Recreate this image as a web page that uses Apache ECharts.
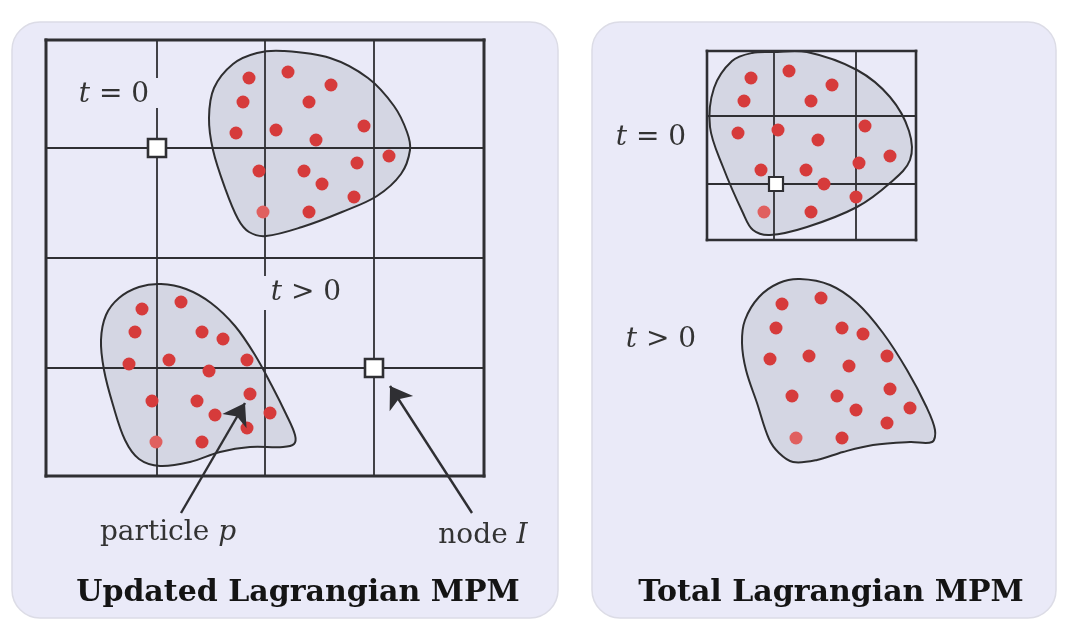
<!DOCTYPE html>
<html><head><meta charset="utf-8">
<script src="https://cdn.jsdelivr.net/npm/echarts@6/dist/echarts.min.js"></script>
<style>html,body{margin:0;padding:0;background:#fff}#c{width:1080px;height:636px}</style>
</head><body><div id="c"></div>
<script>
// Panels [x0,y0,x1,y1]
const panels = [[12,22,558,618],[592,22,1056,618]];
// Background grids
const gridLx = [46,157,265,374,484];
const gridLy = [40,148,258,368,476];
const gridRx = [707,774,856,916];
const gridRy = [51,116,184,240];
// Body outlines
const blobUL0 = [[283,51],[330,58],[368,78],[394,106],[407,132],[410,150],[401,174],[377,196],[342,212],[302,227],[266,236],[249,232],[238,219],[225,188],[213,150],[209,118],[214,88],[233,64],[257,53]];
const blobUL1 = [[161,284],[186,289],[211,303],[235,326],[255,355],[272,386],[286,414],[295,435],[294,444],[283,447],[250,447],[220,452],[190,462],[160,466],[139,459],[125,440],[113,405],[104,370],[101,340],[106,315],[119,298],[139,287]];
const blobTL0 = [[773,52],[807,52],[857,70],[890,97],[909,131],[910,160],[890,183],[857,207],[807,227],[770,235],[753,230],[743,213],[723,167],[710,127],[714,88],[732,61],[752,53]];
const blobTL1 = [[800,279],[830,285],[857,303],[883,333],[907,370],[926,406],[935,430],[932,442],[910,442],[873,445],[843,452],[817,460],[793,462],[779,453],[769,439],[757,403],[746,370],[742,343],[745,320],[759,297],[779,283]];
// Particles
const partUL0 = [[249,78],[288,72],[331,85],[243,102],[309,102],[236,133],[276,130],[316,140],[364,126],[389,156],[259,171],[304,171],[357,163],[322,184],[354,197],[309,212]];
const hiUL0 = [[263,212]];
const partUL1 = [[142,309],[181,302],[135,332],[202,332],[223,339],[129,364],[169,360],[209,371],[247,360],[152,401],[197,401],[250,394],[215,415],[270,413],[247,428],[202,442]];
const hiUL1 = [[156,442]];
const partTL0 = [[751,78],[789,71],[832,85],[744,101],[811,101],[738,133],[778,130],[818,140],[865,126],[890,156],[761,170],[806,170],[859,163],[824,184],[856,197],[811,212]];
const hiTL0 = [[764,212]];
const partTL1 = [[782,304],[821,298],[776,328],[842,328],[863,334],[770,359],[809,356],[849,366],[887,356],[792,396],[837,396],[890,389],[856,410],[910,408],[887,423],[842,438]];
const hiTL1 = [[796,438]];
// Nodes
const nodesL = [[157,148],[374,368]];
const nodesR = [[776,184]];
// Arrows
const arrows = [[[181,513],[245,403]],[[472,513],[390,386]]];
// Label masks (cover grid lines behind labels)
const masks = [[66,78,197,108],[229,276,361,310]];
// Labels [x,y,text,kind]
const labels = [
  [114,95,'{i|t} = 0','m'],
  [306,293,'{i|t} > 0','m'],
  [651,138,'{i|t} = 0','m'],
  [661,340,'{i|t} > 0','m'],
  [168,533,'particle {i|p}','m'],
  [483,536,'node {i|I}','m'],
  [298,593,'Updated Lagrangian MPM','t'],
  [831,593,'Total Lagrangian MPM','t']
];

function segs(xs, ys){
  const out=[];
  xs.forEach(x=>out.push([x,ys[0],x,ys[ys.length-1]]));
  ys.forEach(y=>out.push([xs[0],y,xs[xs.length-1],y]));
  return out;
}
function lineSeries(data, inner, outer, z){
  return {type:'custom',coordinateSystem:'cartesian2d',silent:true,clip:false,z:z,
    data:segs(data.xs,data.ys),encode:{x:[0,2],y:[1,3]},
    renderItem:(p,api)=>{
      const a=api.coord([api.value(0),api.value(1)]), b=api.coord([api.value(2),api.value(3)]);
      const isEdge = (api.value(0)===api.value(2) && (api.value(0)===data.xs[0]||api.value(0)===data.xs[data.xs.length-1])) ||
                     (api.value(1)===api.value(3) && (api.value(1)===data.ys[0]||api.value(1)===data.ys[data.ys.length-1]));
      return {type:'line',shape:{x1:a[0],y1:a[1],x2:b[0],y2:b[1]},style:{stroke:'#2f2f33',lineWidth:isEdge?outer:inner,lineCap:'square'}};
    }};
}
function blob(pts){
  return {type:'custom',coordinateSystem:'cartesian2d',silent:true,clip:false,z:2,data:[[pts[0][0],pts[0][1]]],
    renderItem:(p,api)=>({type:'polygon',shape:{points:pts.map(q=>api.coord(q)),smooth:0.35},
      style:{fill:'#d4d6e3',stroke:'#2e2e30',lineWidth:2}})};
}
function dots(d,color){
  return {type:'scatter',data:d,symbolSize:13,silent:true,z:5,itemStyle:{color:color,opacity:1}};
}
const option = {
  animation:false,
  grid:{left:0,right:0,top:0,bottom:0},
  xAxis:{type:'value',min:0,max:1080,show:false},
  yAxis:{type:'value',min:0,max:636,inverse:true,show:false},
  series:[
    {type:'custom',coordinateSystem:'cartesian2d',silent:true,clip:false,z:0,data:panels,encode:{x:[0,2],y:[1,3]},
      renderItem:(p,api)=>{const a=api.coord([api.value(0),api.value(1)]),b=api.coord([api.value(2),api.value(3)]);
        return {type:'rect',shape:{x:a[0],y:a[1],width:b[0]-a[0],height:b[1]-a[1],r:28},style:{fill:'#eaeaf8',stroke:'#dcdce6',lineWidth:1.5}};}},
    blob(blobUL0),blob(blobUL1),blob(blobTL0),blob(blobTL1),
    lineSeries({xs:gridLx,ys:gridLy},1.8,3,3),
    lineSeries({xs:gridRx,ys:gridRy},1.8,2.6,3),
    {type:'custom',coordinateSystem:'cartesian2d',silent:true,clip:false,z:4,data:masks,encode:{x:[0,2],y:[1,3]},
      renderItem:(p,api)=>{const a=api.coord([api.value(0),api.value(1)]),b=api.coord([api.value(2),api.value(3)]);
        return {type:'rect',shape:{x:a[0],y:a[1],width:b[0]-a[0],height:b[1]-a[1]},style:{fill:'#eaeaf8'}};}},
    dots(partUL0,'#d63b3b'),dots(partUL1,'#d63b3b'),dots(partTL0,'#d63b3b'),dots(partTL1,'#d63b3b'),
    dots(hiUL0,'#e0605f'),dots(hiUL1,'#e0605f'),dots(hiTL0,'#e0605f'),dots(hiTL1,'#e0605f'),
    {type:'scatter',data:nodesL,symbol:'rect',symbolSize:18,silent:true,z:6,itemStyle:{color:'#ffffff',opacity:1,borderColor:'#2f2f33',borderWidth:2.6}},
    {type:'scatter',data:nodesR,symbol:'rect',symbolSize:14,silent:true,z:6,itemStyle:{color:'#ffffff',opacity:1,borderColor:'#2f2f33',borderWidth:2.2}},
    {type:'lines',coordinateSystem:'cartesian2d',silent:true,z:7,symbol:['none','arrow'],symbolSize:[0,21],
      lineStyle:{color:'#2f2f33',width:2.4,opacity:1},data:arrows.map(c=>({coords:c}))},
    {type:'custom',coordinateSystem:'cartesian2d',silent:true,clip:false,z:8,
      data:labels.map(l=>[l[0],l[1]]),
      renderItem:(p,api)=>{const l=labels[p.dataIndex];const c=api.coord([api.value(0),api.value(1)]);
        const title=l[3]==='t';
        return {type:'text',x:c[0],y:c[1],style:{text:l[2],fill:title?'#141414':'#333333',
          fontFamily:'DejaVu Serif',fontSize:title?30:28,fontWeight:title?'bold':'normal',
          align:'center',verticalAlign:'middle',
          rich:{i:{fontStyle:'italic',fontFamily:'DejaVu Serif',fontSize:28,fill:'#333333'}}}};}}
  ]
};
echarts.init(document.getElementById('c'),null,{renderer:'canvas'}).setOption(option);
</script></body></html>
